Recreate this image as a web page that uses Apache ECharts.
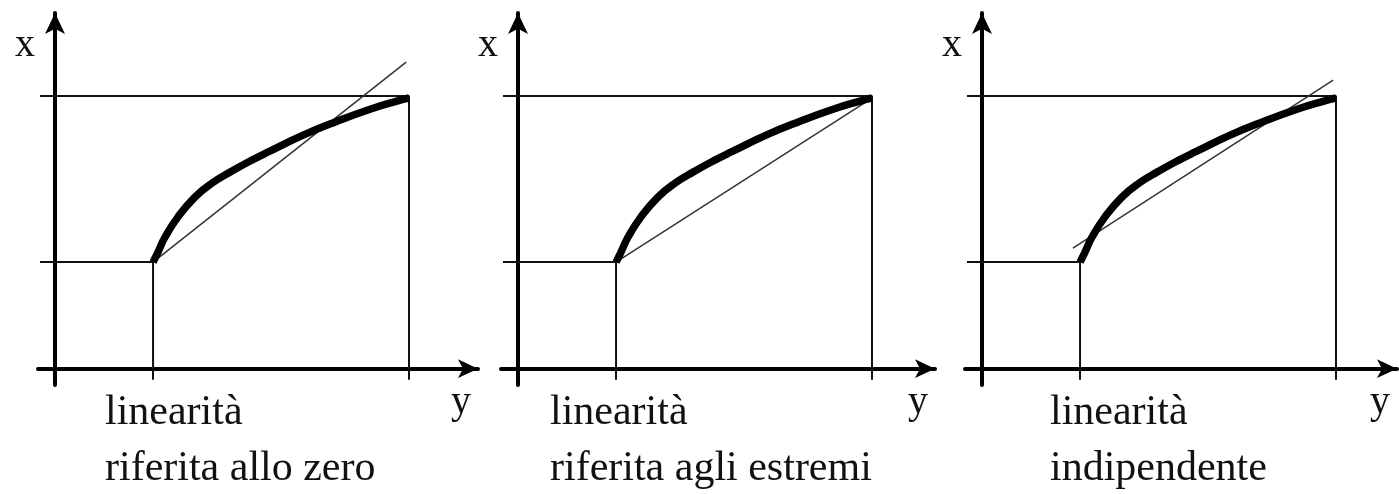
<!DOCTYPE html>
<html>
<head>
<meta charset="utf-8">
<title>linearità</title>
<script src="https://cdn.jsdelivr.net/npm/echarts@6/dist/echarts.min.js"></script>
<style>
  html, body { margin: 0; padding: 0; background: #fff; }
  #chart { width: 1399px; height: 494px; }
</style>
</head>
<body>
<div id="chart"></div>
<script>
// sensor characteristic (same curve in all three panels)
const curveX = [2.77, 2.91, 3.11, 3.47, 3.95, 4.44, 5.0, 5.56, 6.07, 7.01, 7.97, 8.9, 9.66, 10.0];
const curveY = [3.91, 4.28, 4.83, 5.56, 6.29, 6.81, 7.25, 7.65, 7.98, 8.57, 9.08, 9.52, 9.82, 9.93];

// range limits marked on the axes
const rangeX = [2.77, 10];
const rangeY = [3.91, 10];

// reference straight line of each panel (start / end)
const refStartX = [2.77, 2.77, 2.57];
const refStartY = [3.91, 3.91, 4.42];
const refEndX = [9.92, 10.0, 9.92];
const refEndY = [11.25, 9.93, 10.59];

const captions = [
  ['linearità', 'riferita allo zero'],
  ['linearità', 'riferita agli estremi'],
  ['linearità', 'indipendente'],
];

// layout
const gridLeft = [38, 501, 965];
const gridWidth = [440, 434, 432];
const captionLeft = [105, 550, 1050];
const PX_PER_X = 35.4;   // horizontal pixels per unit
const X_MIN = -0.48;
const FONT = '"Liberation Serif", "Times New Roman", serif';
const INK = '#111';

const chart = echarts.init(document.getElementById('chart'));

const curve = curveX.map((x, i) => [x, curveY[i]]);

const grids = [], xAxes = [], yAxes = [], series = [], graphics = [];

captions.forEach((lines, p) => {
  grids.push({
    left: gridLeft[p], top: 13, width: gridWidth[p], height: 372,
    containLabel: false, outerBoundsMode: 'none'
  });

  xAxes.push({
    gridIndex: p, type: 'value', min: X_MIN, max: X_MIN + gridWidth[p] / PX_PER_X,
    name: 'y', nameLocation: 'end', nameGap: -17,
    nameTextStyle: {
      fontFamily: FONT, fontSize: 40, color: INK,
      align: 'center', verticalAlign: 'top', padding: [14, 0, 0, 0]
    },
    axisLine: {
      onZero: true, symbol: ['none', 'arrow'], symbolSize: [14, 20],
      lineStyle: { color: '#000', width: 4 }
    },
    axisTick: {
      show: true, customValues: rangeX, length: 11, inside: false,
      lineStyle: { color: INK, width: 2 }
    },
    axisLabel: { show: false },
    splitLine: { show: false }
  });

  yAxes.push({
    gridIndex: p, type: 'value', min: -0.6, max: 13.05,
    name: 'x', nameLocation: 'end', nameGap: -32,
    nameTextStyle: {
      fontFamily: FONT, fontSize: 40, color: INK,
      align: 'right', verticalAlign: 'middle', padding: [0, 20, 0, 0]
    },
    axisLine: {
      onZero: true, symbol: ['none', 'arrow'], symbolSize: [15, 21],
      lineStyle: { color: '#000', width: 4 }
    },
    axisTick: {
      show: true, customValues: rangeY, length: 15, inside: false,
      lineStyle: { color: INK, width: 2 }
    },
    axisLabel: { show: false },
    splitLine: { show: false }
  });

  const thin = { color: INK, width: 2 };
  // guide lines from the axes to the range limits
  series.push({
    type: 'line', xAxisIndex: p, yAxisIndex: p, symbol: 'none', silent: true,
    data: [[0, rangeY[0]], [rangeX[0], rangeY[0]], [rangeX[0], 0]],
    lineStyle: thin
  });
  series.push({
    type: 'line', xAxisIndex: p, yAxisIndex: p, symbol: 'none', silent: true,
    data: [[0, rangeY[1]], [rangeX[1], rangeY[1]], [rangeX[1], 0]],
    lineStyle: thin
  });
  // reference straight line
  series.push({
    type: 'line', xAxisIndex: p, yAxisIndex: p, symbol: 'none', silent: true,
    data: [[refStartX[p], refStartY[p]], [refEndX[p], refEndY[p]]],
    lineStyle: { color: '#333', width: 1.5 }
  });
  // real characteristic
  series.push({
    type: 'line', xAxisIndex: p, yAxisIndex: p, symbol: 'none', silent: true,
    smooth: true, data: curve,
    lineStyle: { color: '#000', width: 7.5 },
    z: 5
  });

  graphics.push({
    type: 'text', left: captionLeft[p], top: 385,
    style: {
      text: lines.join('\n'), font: '42px ' + FONT, fill: INK,
      lineHeight: 56
    }
  });
});

chart.setOption({
  animation: false,
  backgroundColor: '#fff',
  grid: grids,
  xAxis: xAxes,
  yAxis: yAxes,
  series: series,
  graphic: graphics
});
</script>
</body>
</html>
